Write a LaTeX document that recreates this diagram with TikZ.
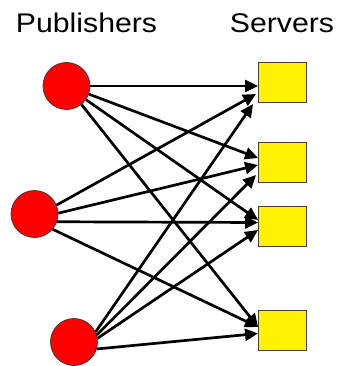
\documentclass[tikz,border=0pt]{standalone}
\usepackage{graphicx}
\usepackage{fontspec}
\setmainfont{Liberation Sans}
\usepackage{tikz}
\usetikzlibrary{arrows.meta}

\begin{document}
\begin{tikzpicture}[x=1pt, y=1pt,
    pub/.style={circle, draw=black!80, line width=0.7pt, fill=red, minimum size=47pt, inner sep=0pt},
    srv/.style={rectangle, draw=black!75, line width=0.9pt, fill=yellow, minimum width=48pt, minimum height=40pt, inner sep=0pt},
    head/.style={anchor=base, inner sep=0pt, font=\fontsize{27}{32}\selectfont},
    link/.style={line width=2.7pt, -{Triangle[length=13pt, width=12pt]}}]
    \useasboundingbox (0,0) rectangle (341,-366);
    \node[head] (publishers) at (86.5,-33) {\scalebox{1.12}[1]{Publishers}};
    \node[head] (servers) at (282,-33) {\scalebox{1.12}[1]{Servers}};
    \node[pub] (p1) at (66.5,-86) {};
    \node[pub] (p2) at (34.5,-214) {};
    \node[pub] (p3) at (74,-342) {};
    \node[srv] (s1) at (282.5,-82) {};
    \node[srv] (s2) at (282.5,-162.5) {};
    \node[srv] (s3) at (282.5,-226) {};
    \node[srv] (s4) at (282.5,-330) {};
    \draw
    (p1.0) edge[link] ([yshift=-4pt]s1.west)
    (p1.-20) edge[link] ([yshift=4.5pt]s2.west)
    (p1.-35) edge[link] ([yshift=6pt]s3.west)
    (p1.-51) edge[link] ([yshift=3pt]s4.west)
    (p2.22) edge[link] ([shift={(-2pt,-12pt)}]s1.west)
    (p2.2) edge[link] ([yshift=-2.5pt]s2.west)
    (p2.-19) edge[link] ([yshift=3.5pt]s3.west)
    (p2.-40) edge[link] ([yshift=3pt]s4.west)
    (p3.25) edge[link] ([shift={(-5pt,-22pt)}]s1.west)
    (p3.17) edge[link] ([shift={(-2pt,-12.5pt)}]s2.west)
    (p3.9) edge[link] ([yshift=-4pt]s3.west)
    (p3.-17) edge[link] ([yshift=-3.5pt]s4.west);
\end{tikzpicture}
\end{document}
